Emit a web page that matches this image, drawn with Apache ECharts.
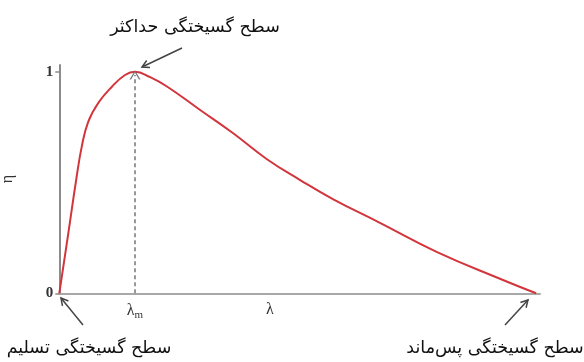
<!DOCTYPE html>
<html>
<head>
<meta charset="utf-8">
<script src="https://cdn.jsdelivr.net/npm/echarts@6/dist/echarts.min.js"></script>
<style>
  html, body { margin: 0; padding: 0; background: #fff; }
  #chart { width: 584px; height: 362px; }
</style>
</head>
<body>
<div id="chart"></div>
<script>
  // curve (lambda in 0..100 of the axis, eta 0..1)
  var lambda = [0, 1.87, 3.5, 4.7, 6.03, 8.11, 10.9, 13.67, 15.75, 18.9, 22.4, 29.3, 36.1, 43.2, 50.1, 57.0, 66.7, 78.6, 92.3, 99.2];
  var eta = [0, 0.27, 0.51, 0.665, 0.775, 0.859, 0.931, 0.985, 1, 0.975, 0.933, 0.827, 0.723, 0.605, 0.511, 0.424, 0.318, 0.186, 0.060, 0];
  var lambdaM = 15.75;
  var lambdaLabelPos = 43.8;
  var yTicks = [0, 1];

  var labelTop = 'سطح گسیختگی حداکثر';
  var labelLeft = 'سطح گسیختگی تسلیم';
  var labelRight = 'سطح گسیختگی پس‌ماند';

  var chart = echarts.init(document.getElementById('chart'));

  var points = lambda.map(function (x, i) { return [x, eta[i]]; });

  // open arrow head + shaft, for the annotations
  function arrow(x1, y1, x2, y2) {
    var a = Math.atan2(y2 - y1, x2 - x1);
    var h = 8, w = 0.5;
    var p1 = [x2 - h * Math.cos(a - w), y2 - h * Math.sin(a - w)];
    var p2 = [x2 - h * Math.cos(a + w), y2 - h * Math.sin(a + w)];
    var st = { stroke: '#444', lineWidth: 1.5, fill: null };
    return [
      { type: 'line', shape: { x1: x1, y1: y1, x2: x2, y2: y2 }, style: st, silent: true },
      { type: 'polyline', shape: { points: [p1, [x2, y2], p2] }, style: st, silent: true }
    ];
  }

  function note(text, x, y) {
    return {
      type: 'text', x: x, y: y, silent: true,
      style: {
        text: text, fill: '#111', font: '17.5px "DejaVu Sans"',
        align: 'center', verticalAlign: 'middle'
      }
    };
  }

  var option = {
    animation: false,
    grid: { left: 59.3, right: 44, top: 65, bottom: 68.7, outerBoundsMode: 'none' },
    xAxis: {
      type: 'value', min: 0, max: 100,
      axisLine: { lineStyle: { color: '#a8a8a8', width: 2 } },
      axisTick: { show: false },
      splitLine: { show: false },
      axisLabel: {
        customValues: [lambdaM, lambdaLabelPos],
        margin: 8,
        formatter: function (v) {
          return v === lambdaM ? '{s|λ}{sub|m}' : '{s|λ}';
        },
        rich: {
          s: { fontFamily: 'Liberation Serif', fontSize: 16, color: '#333' },
          sub: { fontFamily: 'Liberation Serif', fontSize: 11, color: '#333', padding: [8, 0, 0, 0] }
        }
      }
    },
    yAxis: {
      type: 'value', min: 0, max: 1.03,
      name: 'η', nameLocation: 'middle', nameGap: 44, nameRotate: 90,
      nameTextStyle: { fontFamily: 'Liberation Serif', fontSize: 16, color: '#333' },
      axisLine: { show: true, lineStyle: { color: '#8c8c8c', width: 2 } },
      axisTick: { show: true, length: 4, customValues: yTicks, lineStyle: { color: '#8c8c8c', width: 1.5 } },
      splitLine: { show: false },
      axisLabel: {
        customValues: yTicks, margin: 6,
        fontFamily: 'Liberation Serif', fontSize: 15, fontWeight: 'bold', color: '#333'
      }
    },
    series: [{
      type: 'line',
      data: points,
      smooth: 0.45,
      showSymbol: false,
      lineStyle: { color: '#d2353b', width: 2 },
      markLine: {
        silent: true,
        symbol: ['none', 'path://M0,10 L5,0 L10,10 L8.6,10 L5,2.6 L1.4,10 Z'],
        symbolSize: [11, 9],
        label: { show: false },
        lineStyle: { color: '#777', type: [4, 3], width: 1.5 },
        data: [[{ coord: [lambdaM, 0] }, { coord: [lambdaM, 0.985] }]]
      }
    }],
    graphic: [].concat(
      arrow(182, 48, 142, 67),
      arrow(83, 325, 61, 298),
      arrow(505, 325, 528, 300),
      [note(labelTop, 195, 27), note(labelLeft, 89, 348), note(labelRight, 495, 348)]
    )
  };

  chart.setOption(option);
</script>
</body>
</html>
